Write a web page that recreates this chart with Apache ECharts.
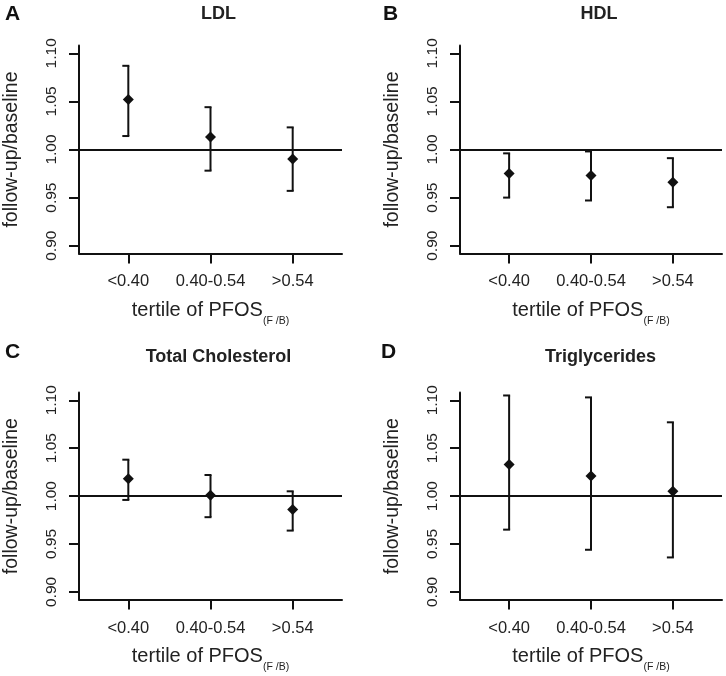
<!DOCTYPE html>
<html>
<head>
<meta charset="utf-8">
<script src="https://cdn.jsdelivr.net/npm/echarts@6/dist/echarts.min.js"></script>
<style>html,body{margin:0;padding:0;background:#fff;}#chart{width:726px;height:676px;}</style>
</head>
<body>
<div id="chart"></div>
<script>
// ---- data ----
const categories = ['<0.40', '0.40-0.54', '>0.54'];
const yTicks = [0.90, 0.95, 1.00, 1.05, 1.10];
const panelLetters = ['A', 'B', 'C', 'D'];
const panelTitles = ['LDL', 'HDL', 'Total Cholesterol', 'Triglycerides'];

const ldlEst  = [1.052, 1.013, 0.990];
const ldlLow  = [1.014, 0.978, 0.957];
const ldlHigh = [1.087, 1.044, 1.023];

const hdlEst  = [0.975, 0.973, 0.966];
const hdlLow  = [0.950, 0.947, 0.940];
const hdlHigh = [0.996, 0.998, 0.991];

const tcEst  = [1.018, 1.001, 0.986];
const tcLow  = [0.996, 0.978, 0.964];
const tcHigh = [1.038, 1.022, 1.005];

const tgEst  = [1.033, 1.021, 1.005];
const tgLow  = [0.965, 0.944, 0.936];
const tgHigh = [1.105, 1.103, 1.077];

const panelData = [
  [ldlEst, ldlLow, ldlHigh],
  [hdlEst, hdlLow, hdlHigh],
  [tcEst, tcLow, tcHigh],
  [tgEst, tgLow, tgHigh]
];

// ---- layout ----
const FONT = '"Liberation Sans", Arial, Helvetica, sans-serif';
const INK = '#111';
const grids = [
  {left: 79,  top: 45.6,  width: 263, height: 207.8},
  {left: 460, top: 45.6,  width: 262, height: 207.8},
  {left: 79,  top: 392.6, width: 263, height: 207},
  {left: 460, top: 392.6, width: 262, height: 207}
];
const titlePos = [
  {letter: [5, 4],    title: [218.5, 5]},
  {letter: [383, 4],  title: [599, 5]},
  {letter: [5, 342],  title: [218.5, 348]},
  {letter: [381, 342],title: [600.5, 348]}
];

const catPos = categories.map((c, i) => i + 1);

const option = {
  animation: false,
  backgroundColor: '#fff',
  title: [],
  grid: grids.map(g => Object.assign({outerBoundsMode: 'none', containLabel: false}, g)),
  xAxis: [],
  yAxis: [],
  series: []
};

grids.forEach((g, k) => {
  option.title.push({
    text: panelLetters[k], left: titlePos[k].letter[0], top: titlePos[k].letter[1], padding: 0,
    textStyle: {fontFamily: FONT, fontSize: 21, fontWeight: 'bold', color: INK}
  });
  option.title.push({
    text: panelTitles[k], left: titlePos[k].title[0], top: titlePos[k].title[1], padding: 0,
    textAlign: 'center',
    textStyle: {fontFamily: FONT, fontSize: 18, fontWeight: 'bold', color: '#222'}
  });

  option.xAxis.push({
    type: 'value', gridIndex: k, min: 0.4, max: 3.6,
    splitLine: {show: false},
    axisLine: {show: true, onZero: false, lineStyle: {color: INK, width: 2}},
    axisTick: {show: true, customValues: catPos, length: 10, lineStyle: {color: INK, width: 2}},
    axisLabel: {
      customValues: catPos, margin: 20, fontFamily: FONT, fontSize: 16.5, color: '#222',
      formatter: v => categories[Math.round(v) - 1] || ''
    },
    name: '{m|tertile of PFOS}{s|(F /B)}',
    nameLocation: 'middle', nameGap: 46,
    nameTextStyle: {
      rich: {
        m: {fontFamily: FONT, fontSize: 20, color: '#222', lineHeight: 22, height: 22, verticalAlign: 'top'},
        s: {fontFamily: FONT, fontSize: 10.5, color: '#222', lineHeight: 28, height: 12, verticalAlign: 'bottom'}
      }
    }
  });

  option.yAxis.push({
    type: 'value', gridIndex: k, min: 0.892, max: 1.108,
    splitLine: {show: false},
    axisLine: {show: true, onZero: false, lineStyle: {color: INK, width: 2}},
    axisTick: {show: true, customValues: yTicks, length: 10, lineStyle: {color: INK, width: 2}},
    axisLabel: {
      customValues: yTicks, rotate: 90, margin: 19, fontFamily: FONT, fontSize: 15.5, color: '#222',
      formatter: v => v.toFixed(2)
    },
    name: 'follow-up/baseline',
    nameLocation: 'middle', nameGap: 57,
    nameTextStyle: {fontFamily: FONT, fontSize: 19.5, color: '#222'}
  });

  const [est, low, high] = panelData[k];

  option.series.push({
    type: 'custom', xAxisIndex: k, yAxisIndex: k, z: 3,
    encode: {x: 0, y: [1, 2]},
    data: catPos.map((x, i) => [x, low[i], high[i]]),
    renderItem: (params, api) => {
      const x = api.value(0), lo = api.value(1), hi = api.value(2);
      const pLo = api.coord([x, lo]);
      const pHi = api.coord([x, hi]);
      const st = {stroke: INK, lineWidth: 2};
      return {
        type: 'group',
        children: [
          {type: 'line', shape: {x1: pLo[0], y1: pLo[1], x2: pHi[0], y2: pHi[1]}, style: st},
          {type: 'line', shape: {x1: pHi[0] - 6, y1: pHi[1], x2: pHi[0] + 1, y2: pHi[1]}, style: st},
          {type: 'line', shape: {x1: pLo[0] - 6, y1: pLo[1], x2: pLo[0] + 1, y2: pLo[1]}, style: st}
        ]
      };
    }
  });

  option.series.push({
    type: 'scatter', xAxisIndex: k, yAxisIndex: k, z: 5,
    symbol: 'diamond', symbolSize: [11, 11],
    itemStyle: {color: INK, opacity: 1},
    data: catPos.map((x, i) => [x, est[i]]),
    markLine: {
      silent: true, symbol: 'none', label: {show: false},
      lineStyle: {color: INK, width: 1.8, type: 'solid'},
      data: [{yAxis: 1.0}]
    }
  });
});

const chart = echarts.init(document.getElementById('chart'), null, {renderer: 'canvas'});
chart.setOption(option);
</script>
</body>
</html>
